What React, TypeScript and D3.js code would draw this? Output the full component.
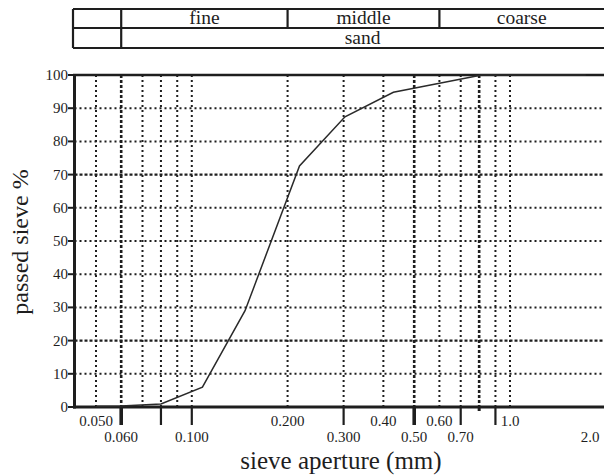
import React from "react";
import * as d3 from "d3";

// Sieve analysis: cumulative percentage passing vs. aperture
const apertureMm = [0.05, 0.06, 0.08, 0.108, 0.147, 0.218, 0.303, 0.43, 0.815, 1.73];
const passedPct = [0.2, 0.3, 0.9, 6, 29, 72.6, 87.4, 94.8, 100, 100];

const gridMm = [0.05, 0.06, 0.07, 0.08, 0.09, 0.1, 0.2, 0.3, 0.4, 0.5, 0.6, 0.7, 0.8, 0.9, 1.0];
const heavyGridMm = [0.06, 0.5, 0.8];
const longTickMm = [0.06, 0.08, 0.1, 0.3, 0.5, 0.7, 0.9];
const shortTickMm = [0.8];
const upperLabels: [number, string][] = [[0.05, "0.050"], [0.2, "0.200"], [0.4, "0.40"], [0.6, "0.60"], [1.0, "1.0"]];
const lowerLabels: [number, string][] = [[0.06, "0.060"], [0.1, "0.100"], [0.3, "0.300"], [0.5, "0.50"], [0.7, "0.70"], [2.0, "2.0"]];

const yTicks = [0, 10, 20, 30, 40, 50, 60, 70, 80, 90, 100];
const heavyGridPct = [20, 70];

const fractionNames = ["fine", "middle", "coarse"];
const fractionBounds = [0.06, 0.2, 0.6, 2.0];
const soilName = "sand";

const W = 604;
const H = 476;
const FONT = "'Liberation Serif', 'Times New Roman', 'DejaVu Serif', serif";
const INK = "#1e1e1e";

export default function App() {
  const left = 74.5;
  const right = W;
  const top = 75;
  const bottom = 407;

  const x = d3.scaleLog().domain([0.05, 1]).range([96, 510]);
  const y = d3.scaleLinear().domain([0, 100]).range([bottom, top]);

  const line = d3
    .line<number>()
    .x((_, i) => x(apertureMm[i]))
    .y((d) => y(d));

  const headTop = 9;
  const headMid = 28;
  const headBot = 48;

  const textStyle = { fontFamily: FONT };

  return (
    <svg
      width={W}
      height={H}
      style={{ position: "absolute", left: 0, top: 0, background: "#fff", fontFamily: FONT }}
    >
      {/* classification header */}
      <g stroke={INK} strokeWidth={2.2} fill="none">
        <line x1={73} x2={W} y1={headTop} y2={headTop} />
        <line x1={73} x2={W} y1={headMid} y2={headMid} />
        <line x1={73} x2={W} y1={headBot} y2={headBot} />
        <line x1={73} x2={73} y1={headTop} y2={headBot} />
        <line x1={x(fractionBounds[0])} x2={x(fractionBounds[0])} y1={headTop} y2={headBot} />
        {fractionBounds.slice(1, -1).map((b) => (
          <line key={b} x1={x(b)} x2={x(b)} y1={headTop} y2={headMid} />
        ))}
      </g>
      <g fill={INK} fontSize={19.5} textAnchor="middle" style={textStyle}>
        {fractionNames.map((n, i) => {
          const a = x(fractionBounds[i]);
          const b = Math.min(x(fractionBounds[i + 1]), W);
          return (
            <text key={n} x={(a + b) / 2} y={headMid - 4}>
              {n}
            </text>
          );
        })}
        <text x={(x(fractionBounds[0]) + W) / 2} y={headBot - 4}>
          {soilName}
        </text>
      </g>

      {/* horizontal grid */}
      <g stroke={INK} fill="none">
        {yTicks.slice(1, -1).map((t) => {
          const heavy = heavyGridPct.includes(t);
          return (
            <line
              key={t}
              x1={left}
              x2={right}
              y1={y(t)}
              y2={y(t)}
              strokeWidth={heavy ? 2.4 : 2}
              strokeDasharray={heavy ? "3 2" : "2 3"}
            />
          );
        })}
      </g>

      {/* vertical grid */}
      <g stroke={INK} fill="none">
        {gridMm.map((m) => {
          const heavy = heavyGridMm.includes(m);
          return (
            <line
              key={m}
              x1={x(m)}
              x2={x(m)}
              y1={top}
              y2={bottom}
              strokeWidth={heavy ? 2.6 : 2}
              strokeDasharray={heavy ? "3 2" : "2 3"}
            />
          );
        })}
      </g>

      {/* x ticks below axis */}
      <g stroke={INK}>
        {longTickMm.map((m) => (
          <line
            key={m}
            x1={x(m)}
            x2={x(m)}
            y1={bottom}
            y2={bottom + 18}
            strokeWidth={heavyGridMm.includes(m) ? 3.6 : 2.2}
          />
        ))}
        {shortTickMm.map((m) => (
          <line key={m} x1={x(m)} x2={x(m)} y1={bottom} y2={bottom + 4} strokeWidth={3} />
        ))}
      </g>

      {/* y ticks */}
      <g stroke={INK} strokeWidth={2}>
        {yTicks.map((t) => (
          <line key={t} x1={68} x2={left} y1={y(t)} y2={y(t)} />
        ))}
      </g>

      {/* frame: left axis, top and bottom lines */}
      <g stroke={INK} fill="none">
        <line x1={left} x2={left} y1={top - 1} y2={bottom + 1.5} strokeWidth={3} />
        <line x1={73} x2={right} y1={top} y2={top} strokeWidth={2.4} />
        <line x1={73} x2={right} y1={bottom} y2={bottom} strokeWidth={3} />
      </g>

      {/* grading curve */}
      <path d={line(passedPct) ?? ""} fill="none" stroke="#2a2a2a" strokeWidth={1.5} />

      {/* y tick labels */}
      <g fill={INK} fontSize={15} textAnchor="end" style={textStyle}>
        {yTicks.map((t) => (
          <text key={t} x={68} y={y(t) + 5}>
            {t}
          </text>
        ))}
      </g>

      {/* x tick labels */}
      <g fill={INK} fontSize={15} textAnchor="middle" style={textStyle}>
        {upperLabels.map(([v, s]) => (
          <text key={s} x={Math.min(x(v), W - 14)} y={426}>
            {s}
          </text>
        ))}
        {lowerLabels.map(([v, s]) => (
          <text key={s} x={Math.min(x(v), W - 14)} y={442}>
            {s}
          </text>
        ))}
      </g>

      {/* axis titles */}
      <text x={341} y={469} fontSize={25} fill={INK} textAnchor="middle" style={textStyle}>
        sieve aperture (mm)
      </text>
      <text
        transform="translate(28,242) rotate(-90)"
        fontSize={24}
        fill={INK}
        textAnchor="middle"
        style={textStyle}
      >
        passed sieve %
      </text>
    </svg>
  );
}
